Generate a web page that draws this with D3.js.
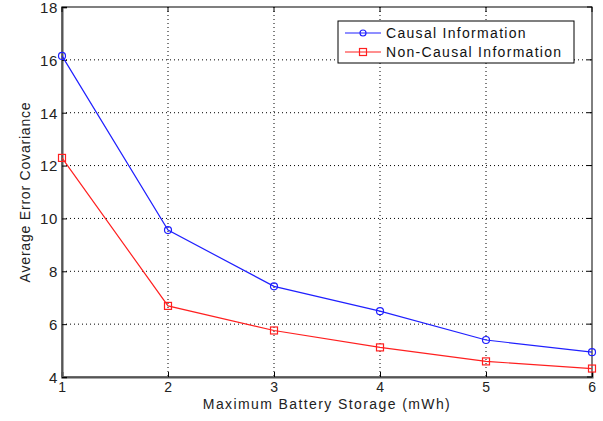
<!DOCTYPE html>
<html>
<head>
<meta charset="utf-8">
<script src="https://cdn.jsdelivr.net/npm/d3@7"></script>
<style>
  body { margin: 0; background: #fff; }
  text { font-family: "Liberation Sans", Arial, sans-serif; }
</style>
</head>
<body>
<div id="chart"></div>
<script>
// data
var storage = [1, 2, 3, 4, 5, 6];
var causal = [16.15, 9.56, 7.43, 6.49, 5.40, 4.94];
var nonCausal = [12.29, 6.69, 5.76, 5.12, 4.59, 4.32];
var xTicks = [1, 2, 3, 4, 5, 6];
var yTicks = [4, 6, 8, 10, 12, 14, 16, 18];
var seriesNames = ["Causal Information", "Non-Causal Information"];

var W = 603, H = 421;
var margin = {top: 7, right: 11, bottom: 44, left: 62};
var width = W - margin.left - margin.right,
    height = H - margin.top - margin.bottom;

var svg = d3.select("#chart").append("svg")
    .attr("width", W)
    .attr("height", H);

var g = svg.append("g").attr("transform", "translate(" + margin.left + "," + margin.top + ")");

var x = d3.scaleLinear().domain([1, 6]).range([0, width]);
var y = d3.scaleLinear().domain([4, 18]).range([height, 0]);

// grid (dotted)
g.append("g").selectAll("line.gx")
    .data(xTicks.slice(1, -1)).enter().append("line")
    .attr("x1", function(d) { return x(d); }).attr("x2", function(d) { return x(d); })
    .attr("y1", 0).attr("y2", height)
    .attr("stroke", "#000").attr("stroke-width", 1).attr("stroke-dasharray", "1,3");
g.append("g").selectAll("line.gy")
    .data(yTicks.slice(1, -1)).enter().append("line")
    .attr("x1", 0).attr("x2", width)
    .attr("y1", function(d) { return y(d); }).attr("y2", function(d) { return y(d); })
    .attr("stroke", "#000").attr("stroke-width", 1).attr("stroke-dasharray", "1,3");

// box
g.append("rect").attr("x", 0).attr("y", 0).attr("width", width).attr("height", height)
    .attr("fill", "none").attr("stroke", "#000").attr("stroke-width", 1);

// axes
var xAxis = g.append("g").attr("transform", "translate(0," + height + ")")
    .call(d3.axisBottom(x).tickValues(xTicks).tickSize(-5).tickPadding(5).tickFormat(d3.format("d")));
var yAxis = g.append("g")
    .call(d3.axisLeft(y).tickValues(yTicks).tickSize(-5).tickPadding(4).tickFormat(d3.format("d")));
[xAxis, yAxis].forEach(function(a) {
  a.select(".domain").attr("stroke", "#555").attr("stroke-width", 2);
  a.selectAll(".tick line").attr("stroke", "#000");
  a.selectAll(".tick text").attr("font-size", 15).attr("letter-spacing", 0.6)
      .attr("font-family", "Liberation Sans, Arial, sans-serif").attr("fill", "#222");
});
xAxis.selectAll(".tick text").attr("font-size", 14);
yAxis.selectAll(".tick text").attr("dy", "0.36em");
// top/right tick marks
g.append("g").selectAll("line").data(xTicks).enter().append("line")
    .attr("x1", function(d) { return x(d); }).attr("x2", function(d) { return x(d); })
    .attr("y1", 0).attr("y2", 5).attr("stroke", "#000");
g.append("g").selectAll("line").data(yTicks).enter().append("line")
    .attr("x1", width - 5).attr("x2", width)
    .attr("y1", function(d) { return y(d); }).attr("y2", function(d) { return y(d); })
    .attr("stroke", "#000");

// labels
svg.append("text")
    .attr("x", margin.left + width / 2).attr("y", 409)
    .attr("text-anchor", "middle").attr("font-size", 14).attr("letter-spacing", 1.4)
    .attr("fill", "#222")
    .text("Maximum Battery Storage (mWh)");
svg.append("text")
    .attr("transform", "translate(30," + (margin.top + height / 2) + ") rotate(-90)")
    .attr("text-anchor", "middle").attr("font-size", 14).attr("letter-spacing", 0.8)
    .attr("fill", "#222")
    .text("Average Error Covariance");

// lines
var line = d3.line()
    .x(function(d, i) { return x(storage[i]); })
    .y(function(d) { return y(d); });

g.append("path").datum(causal).attr("d", line)
    .attr("fill", "none").attr("stroke", "#2020ff").attr("stroke-width", 1.2);
g.append("path").datum(nonCausal).attr("d", line)
    .attr("fill", "none").attr("stroke", "#ff2020").attr("stroke-width", 1.2);

g.append("g").selectAll("circle").data(causal).enter().append("circle")
    .attr("cx", function(d, i) { return x(storage[i]); })
    .attr("cy", function(d) { return y(d); })
    .attr("r", 3.5).attr("fill", "none").attr("stroke", "#2020ff").attr("stroke-width", 1.2);
g.append("g").selectAll("rect").data(nonCausal).enter().append("rect")
    .attr("x", function(d, i) { return x(storage[i]) - 3.5; })
    .attr("y", function(d) { return y(d) - 3.5; })
    .attr("width", 7).attr("height", 7)
    .attr("fill", "none").attr("stroke", "#ff2020").attr("stroke-width", 1.2);

// legend
var lg = svg.append("g").attr("transform", "translate(338,21)");
lg.append("rect").attr("x", 0).attr("y", 0).attr("width", 236).attr("height", 42)
    .attr("fill", "#fff").attr("stroke", "#000").attr("stroke-width", 1);
var colors = ["#2020ff", "#ff2020"];
seriesNames.forEach(function(name, i) {
  var yy = 12 + i * 19;
  lg.append("line").attr("x1", 7).attr("x2", 43).attr("y1", yy).attr("y2", yy)
      .attr("stroke", colors[i]).attr("stroke-width", 1.2);
  if (i === 0) {
    lg.append("circle").attr("cx", 25).attr("cy", yy).attr("r", 3)
        .attr("fill", "none").attr("stroke", colors[i]).attr("stroke-width", 1.2);
  } else {
    lg.append("rect").attr("x", 21.5).attr("y", yy - 3.5).attr("width", 7).attr("height", 7)
        .attr("fill", "none").attr("stroke", colors[i]).attr("stroke-width", 1.2);
  }
  lg.append("text").attr("x", 48).attr("y", yy + 5)
      .attr("font-size", 14).attr("letter-spacing", 1.3).attr("fill", "#111").text(name);
});
</script>
</body>
</html>
